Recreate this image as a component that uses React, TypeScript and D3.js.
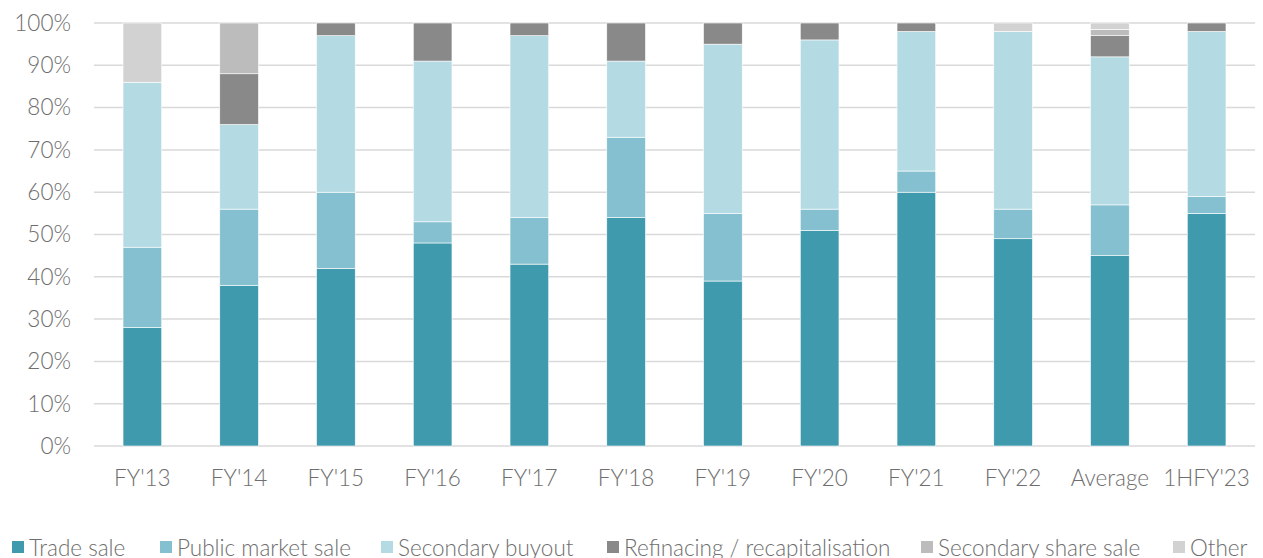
import React from "react";
import * as d3 from "d3";

const categories = ["FY'13", "FY'14", "FY'15", "FY'16", "FY'17", "FY'18", "FY'19", "FY'20", "FY'21", "FY'22", "Average", "1HFY'23"];
const seriesNames = ["Trade sale", "Public market sale", "Secondary buyout", "Refinacing / recapitalisation", "Secondary share sale", "Other"];
const tradeSale = [28, 38, 42, 48, 43, 54, 39, 51, 60, 49, 45, 55];
const publicMarketSale = [19, 18, 18, 5, 11, 19, 16, 5, 5, 7, 12, 4];
const secondaryBuyout = [39, 20, 37, 38, 43, 18, 40, 40, 33, 42, 35, 39];
const refinancing = [0, 12, 3, 9, 3, 9, 5, 4, 2, 0, 5, 2];
const secondaryShareSale = [0, 12, 0, 0, 0, 0, 0, 0, 0, 0, 1.5, 0];
const other = [14, 0, 0, 0, 0, 0, 0, 0, 0, 2, 1.5, 0];
const yTicks = [0, 10, 20, 30, 40, 50, 60, 70, 80, 90, 100];
const colors = ["#3f9aae", "#84c0cf", "#b4dbe3", "#898989", "#bcbcbc", "#d2d2d2"];

const W = 1263;
const H = 558;
const left = 94;
const right = 1255;
const top = 23;
const bottom = 446;

export default function App() {
  const seriesValues = [tradeSale, publicMarketSale, secondaryBuyout, refinancing, secondaryShareSale, other];
  const rows = categories.map((c, i) => {
    const r: any = { cat: c };
    seriesNames.forEach((s, k) => (r[s] = seriesValues[k][i]));
    return r;
  });
  const stacked = d3.stack().keys(seriesNames)(rows);
  const x = d3.scaleBand().domain(categories).range([left, right]).paddingInner(0.6).paddingOuter(0.3);
  const y = d3.scaleLinear().domain([0, 100]).range([bottom, top]);

  const legendSquares = [12, 160, 381, 607, 921, 1173];
  const font = "Lato, 'Open Sans', sans-serif";
  const fs = 22.5;

  return (
    <svg width={W} height={H} style={{ position: "absolute", left: 0, top: 0 }} fontFamily={font} fontWeight={300}>
      {yTicks.map((t) => (
        <g key={t}>
          <line x1={left} x2={right} y1={y(t)} y2={y(t)} stroke="#d9d9d9" strokeWidth={1.5} />
          <text x={71} y={y(t)} dy="0.35em" textAnchor="end" fontSize={fs} fill="#6e6e6e">
            {t}%
          </text>
        </g>
      ))}
      {stacked.map((layer, k) => (
        <g key={layer.key} fill={colors[k]}>
          {layer.map((d, i) =>
            d[1] - d[0] > 0 ? (
              <rect
                key={i}
                x={x(categories[i])!}
                width={x.bandwidth()}
                y={y(d[1])}
                height={y(d[0]) - y(d[1])}
                stroke="#ffffff"
                strokeWidth={0.6}
              />
            ) : null
          )}
        </g>
      ))}
      {categories.map((c) => (
        <text key={c} x={x(c)! + x.bandwidth() / 2} y={486} textAnchor="middle" fontSize={fs} fill="#6e6e6e">
          {c}
        </text>
      ))}
      {seriesNames.map((s, k) => (
        <g key={s}>
          <rect x={legendSquares[k]} y={541} width={12} height={12} fill={colors[k]} />
          <text x={legendSquares[k] + 17} y={556} fontSize={fs} fill="#6e6e6e">
            {s}
          </text>
        </g>
      ))}
    </svg>
  );
}
